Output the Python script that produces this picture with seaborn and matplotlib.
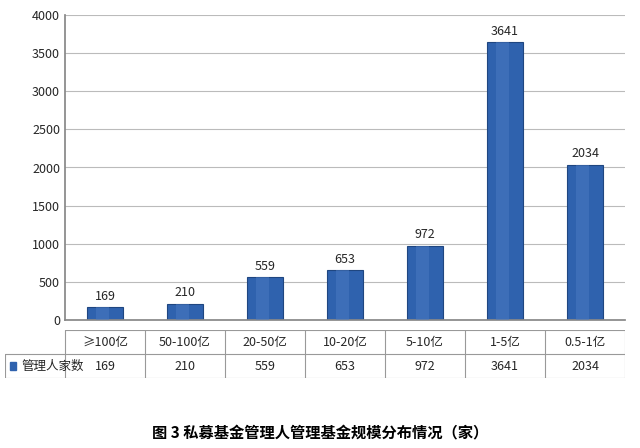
import matplotlib
matplotlib.use("Agg")
import matplotlib.pyplot as plt
import seaborn as sns
import pandas as pd

categories = ["≥100亿", "50-100亿", "20-50亿", "10-20亿", "5-10亿", "1-5亿", "0.5-1亿"]
values = [169, 210, 559, 653, 972, 3641, 2034]
series_name = "管理人家数"
title = "图 3 私募基金管理人管理基金规模分布情况（家）"

sns.set_theme(style="white")
plt.rcParams['font.family'] = ['Noto Sans CJK SC', 'DejaVu Sans']

W, H = 640, 448
fig = plt.figure(figsize=(W/100, H/100), dpi=100)
ax = fig.add_axes([65/W, 1-320/H, 560/W, 305/H])
df = pd.DataFrame({"cat": categories, "val": values})
sns.barplot(data=df, x="cat", y="val", color="#2F62AE", width=0.44, ax=ax,
            saturation=1, edgecolor="#1F4680", linewidth=0.8)
# soft highlight for cylinder look
for p in list(ax.patches):
    x0, w, h = p.get_x(), p.get_width(), p.get_height()
    ax.bar(x0 + w*0.25, h, width=w*0.35, bottom=0, align="edge", color="#4B7BC2",
           alpha=0.5, linewidth=0, zorder=3)
ax.set_ylim(0, 4000)
ax.set_yticks(range(0, 4001, 500))
ax.yaxis.grid(True, color="#BBBBBB", linewidth=0.8)
ax.set_axisbelow(True)
ax.set_xlabel(""); ax.set_ylabel("")
ax.set_xticks([]); ax.set_xlim(-0.5, 6.5)
for s in ["top", "right"]:
    ax.spines[s].set_visible(False)
ax.spines["left"].set_color("#888888"); ax.spines["bottom"].set_color("#888888")
ax.tick_params(axis="y", labelsize=9, length=0)
for i, v in enumerate(values):
    ax.text(i, v + 60, str(v), ha="center", va="bottom", fontsize=9)

# data table
tax = fig.add_axes([5/W, 1-378/H, 620/W, 48/H])
tax.set_xlim(-60/80 - 0.5, 6.5); tax.set_ylim(0, 2)
tax.axis("off")
x_left = -0.5 - 60/80
for y in [0, 1, 2]:
    tax.plot([-0.5 if y == 2 else x_left, 6.5], [y, y], color="#999999", lw=0.8)
for xb in [x_left] + [i - 0.5 for i in range(8)]:
    tax.plot([xb, xb], [0, 2 if xb > x_left else 1], color="#999999", lw=0.8)
for i, (c, v) in enumerate(zip(categories, values)):
    tax.text(i, 1.5, c, ha="center", va="center", fontsize=9)
    tax.text(i, 0.5, str(v), ha="center", va="center", fontsize=9)
tax.add_patch(plt.Rectangle((x_left + 0.06, 0.35), 0.08, 0.3, color="#2F62AE"))
tax.text(x_left + 0.2, 0.5, series_name, ha="left", va="center", fontsize=9)

fig.text(0.5, 1-432/H, title, ha="center", va="center", fontsize=11, fontweight="bold", color="black")
fig.savefig("out.png", dpi=100)
